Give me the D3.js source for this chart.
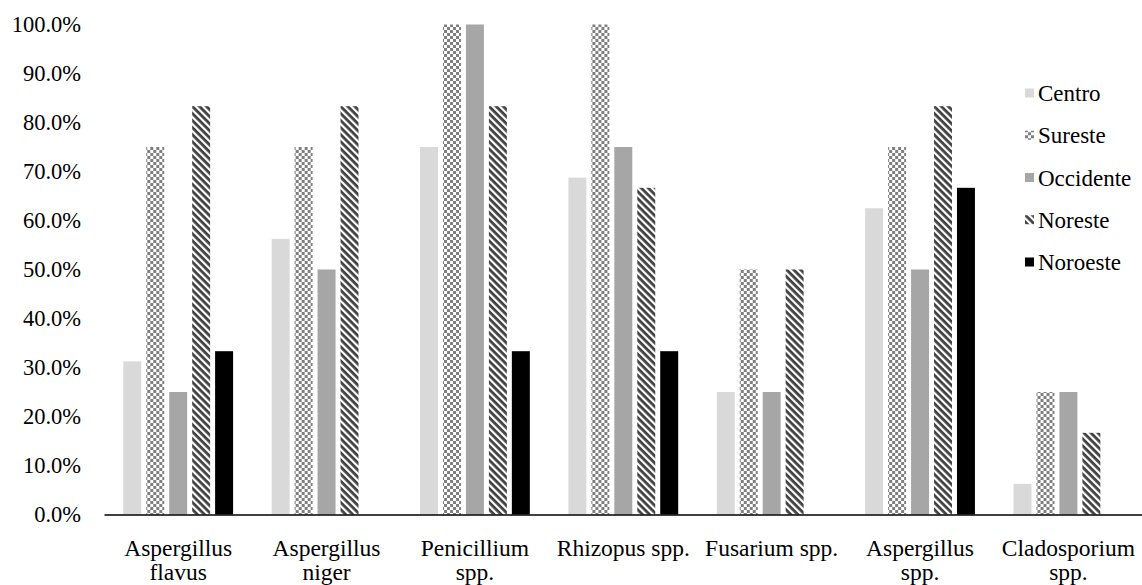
<!DOCTYPE html>
<html>
<head>
<meta charset="utf-8">
<script src="https://cdn.jsdelivr.net/npm/d3@7"></script>
<style>
  html, body { margin: 0; padding: 0; background: #fff; }
  svg { display: block; }
</style>
</head>
<body>
<svg id="chart" width="1142" height="585"></svg>
<script>
// Fungal genera (x categories); "\n" marks a line break in the label
const categories = [
  "Aspergillus\nflavus",
  "Aspergillus\nniger",
  "Penicillium\nspp.",
  "Rhizopus spp.",
  "Fusarium spp.",
  "Aspergillus\nspp.",
  "Cladosporium\nspp."
];

// Regions (series)
const regions = ["Centro", "Sureste", "Occidente", "Noreste", "Noroeste"];

// Frequency of each genus per region (fraction)
const centro    = [0.3125, 0.5625, 0.75, 0.6875, 0.25, 0.625, 0.0625];
const sureste   = [0.75, 0.75, 1.00, 1.00, 0.50, 0.75, 0.25];
const occidente = [0.25, 0.50, 1.00, 0.75, 0.25, 0.50, 0.25];
const noreste   = [0.8333, 0.8333, 0.8333, 0.6667, 0.50, 0.8333, 0.1667];
const noroeste  = [0.3333, 0, 0.3333, 0.3333, 0, 0.6667, 0];

const seriesValues = [centro, sureste, occidente, noreste, noroeste];

// Y axis tick values
const yTicks = [0, 0.1, 0.2, 0.3, 0.4, 0.5, 0.6, 0.7, 0.8, 0.9, 1.0];

const FONT = "Liberation Serif";

// Apply the serif face directly on every text node
function serif(sel, size) {
  sel.attr("font-family", FONT)
     .attr("font-size", size)
     .attr("fill", "#000")
     .style("font-family", FONT)
     .style("font-size", size + "px");
}

const svg = d3.select("#chart");

// Pattern fills
const defs = svg.append("defs");

const checker = defs.append("pattern")
  .attr("id", "pat-checker")
  .attr("patternUnits", "userSpaceOnUse")
  .attr("width", 6).attr("height", 6);
checker.append("rect").attr("width", 6).attr("height", 6).attr("fill", "#fff");
checker.append("rect").attr("x", 0).attr("y", 0).attr("width", 3).attr("height", 3).attr("fill", "#7f7f7f");
checker.append("rect").attr("x", 3).attr("y", 3).attr("width", 3).attr("height", 3).attr("fill", "#7f7f7f");

const stripes = defs.append("pattern")
  .attr("id", "pat-stripes")
  .attr("patternUnits", "userSpaceOnUse")
  .attr("width", 5).attr("height", 5)
  .attr("patternTransform", "rotate(45)");
stripes.append("rect").attr("width", 5).attr("height", 5).attr("fill", "#fff");
stripes.append("rect").attr("x", 0).attr("y", 0).attr("width", 5).attr("height", 2.8).attr("fill", "#404040");

const fills = {
  "Centro": "#d9d9d9",
  "Sureste": "url(#pat-checker)",
  "Occidente": "#a6a6a6",
  "Noreste": "url(#pat-stripes)",
  "Noroeste": "#000000"
};

// Scales
const x0 = d3.scaleBand()
  .domain(categories)
  .range([104, 1142.6])
  .paddingInner(0.26)
  .paddingOuter(0.13);

const x1 = d3.scaleBand()
  .domain(regions)
  .range([0, x0.bandwidth()])
  .paddingInner(0.217);

const y = d3.scaleLinear()
  .domain([0, 1])
  .range([514.5, 24.5]);

// Y axis labels
const yAxis = d3.axisLeft(y)
  .tickValues(yTicks)
  .tickFormat(d3.format(".1%"))
  .tickSize(0)
  .tickPadding(0);

const gy = svg.append("g")
  .attr("transform", "translate(81,0)")
  .call(yAxis);
gy.select(".domain").remove();
gy.selectAll("text").call(serif, 22.5);

// Bars
const groups = svg.append("g")
  .selectAll("g")
  .data(categories)
  .join("g")
  .attr("transform", d => `translate(${x0(d)},0)`);

groups.selectAll("rect")
  .data((d, i) => regions.map((r, k) => ({ region: r, value: seriesValues[k][i] })))
  .join("rect")
  .attr("x", d => x1(d.region))
  .attr("width", x1.bandwidth())
  .attr("y", d => y(d.value))
  .attr("height", d => y(0) - y(d.value))
  .attr("fill", d => fills[d.region]);

// X axis
const xAxis = d3.axisBottom(x0).tickSize(0).tickPadding(0).tickFormat("");
const gx = svg.append("g")
  .attr("transform", `translate(0,${y(0)})`)
  .call(xAxis);
gx.select(".domain")
  .attr("stroke", "#000")
  .attr("stroke-width", 1.6);

// Category labels (wrapped)
const labels = svg.append("g")
  .selectAll("text")
  .data(categories)
  .join("text")
  .attr("text-anchor", "middle")
  .attr("x", d => x0(d) + x0.bandwidth() / 2)
  .attr("y", 556)
  .call(serif, 23.5);

labels.selectAll("tspan")
  .data(d => d.split("\n"))
  .join("tspan")
  .attr("x", function () { return d3.select(this.parentNode).attr("x"); })
  .attr("dy", (d, i) => i === 0 ? 0 : 23.5)
  .text(d => d);

// Legend
const legendY = d3.scalePoint()
  .domain(regions)
  .range([93, 262]);

const legend = svg.append("g")
  .selectAll("g")
  .data(regions)
  .join("g")
  .attr("transform", d => `translate(1025,${legendY(d)})`);

legend.append("rect")
  .attr("x", 0)
  .attr("y", -4.5)
  .attr("width", 9)
  .attr("height", 9)
  .attr("fill", d => fills[d]);

legend.append("text")
  .attr("x", 13)
  .attr("y", 0)
  .attr("dy", "0.35em")
  .call(serif, 23)
  .text(d => d);
</script>
</body>
</html>
